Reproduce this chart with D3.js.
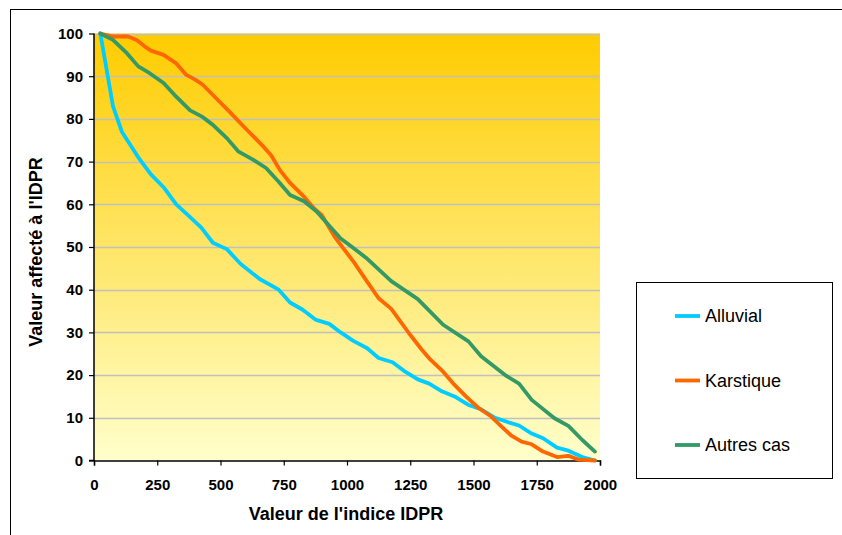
<!DOCTYPE html>
<html><head><meta charset="utf-8">
<script src="https://cdn.jsdelivr.net/npm/d3@7"></script>
<style>body{margin:0;background:#fff}svg{display:block}text{font-family:"Liberation Sans",Arial,sans-serif}</style>
</head><body><svg id="c" width="842" height="535"></svg>
<script>
const seriesNames = ["Alluvial", "Karstique", "Autres cas"];
const seriesColors = ["#00CCFF", "#FF6600", "#339966"];
const alluvial = [[25,100],[75,83],[110,77],[175,71],[225,67],[275,64],[325,60],[380,57],[425,54.5],[470,51],[525,49.5],[580,46],[655,42.5],[730,40],[775,37],[825,35.3],[875,33],[930,32],[975,30],[1025,28],[1080,26.3],[1125,24],[1180,23],[1225,21],[1280,19],[1325,18],[1375,16.2],[1425,15],[1480,13],[1530,12],[1585,10],[1635,9],[1680,8.2],[1730,6.3],[1775,5.2],[1830,3],[1875,2.3],[1930,0.8],[1980,0]];
const karstique = [[25,100],[75,99.3],[135,99.3],[170,98.4],[200,97],[225,96],[275,95],[325,93],[365,90.3],[400,89.2],[430,88],[470,85.6],[540,81.4],[605,77.4],[670,73.5],[700,71.5],[735,68],[775,65],[830,61.8],[870,59],[900,57.5],[950,52.5],[1030,46.2],[1070,42.7],[1125,38],[1175,35.5],[1245,29.8],[1295,26],[1330,23.6],[1380,20.8],[1425,17.7],[1470,15],[1520,12.3],[1570,10.3],[1610,8],[1650,5.8],[1690,4.4],[1730,3.8],[1775,2.1],[1830,0.8],[1875,1.1],[1915,0.2],[1980,0]];
const autresCas = [[25,100],[75,98.5],[130,95.4],[175,92.3],[220,90.7],[275,88.4],[325,85.2],[380,82],[425,80.6],[470,78.6],[525,75.5],[570,72.4],[630,70.4],[680,68.5],[730,65.3],[775,62.2],[830,60.7],[880,58.3],[930,55],[975,52],[1020,50],[1075,47.5],[1175,42],[1280,37.8],[1380,31.8],[1480,27.9],[1530,24.4],[1625,20],[1680,18],[1730,14.2],[1820,9.9],[1875,8.1],[1930,4.8],[1980,2.1]];
const xTicks = [0,250,500,750,1000,1250,1500,1750,2000];
const yTicks = [0,10,20,30,40,50,60,70,80,90,100];
const xTitle = "Valeur de l'indice IDPR";
const yTitle = "Valeur affecté à l'IDPR";

const svg = d3.select("#c");
const L = 94, R = 600, T = 33.5, B = 460.5;
const x = d3.scaleLinear().domain([0,2000]).range([L,R]);
const y = d3.scaleLinear().domain([0,100]).range([B,T]);

// outer border
svg.append("rect").attr("x",10.5).attr("y",9.5).attr("width",845).attr("height",540)
  .attr("fill","none").attr("stroke","#000").attr("stroke-width",1);

const defs = svg.append("defs");
const g = defs.append("linearGradient").attr("id","bg").attr("x1",0).attr("y1",0).attr("x2",0).attr("y2",1);
g.append("stop").attr("offset","0%").attr("stop-color","#FFCC00");
g.append("stop").attr("offset","100%").attr("stop-color","#FFFFCC");
svg.append("rect").attr("x",L).attr("y",T).attr("width",R-L).attr("height",B-T).attr("fill","url(#bg)");

// gridlines
svg.append("g").selectAll("line").data(yTicks.filter(d=>d>0)).join("line")
  .attr("x1",L).attr("x2",R).attr("y1",d=>Math.round(y(d))+0.5).attr("y2",d=>Math.round(y(d))+0.5)
  .attr("stroke","#C0C0C0").attr("stroke-width",1.3);

// axes
const fmt = d3.format("d");
const xAxis = svg.append("g").attr("transform",`translate(0,${B})`)
  .call(d3.axisBottom(x).tickValues(xTicks).tickFormat(fmt).tickSize(5).tickPadding(14));
const yAxis = svg.append("g").attr("transform",`translate(${L},0)`)
  .call(d3.axisLeft(y).tickValues(yTicks).tickFormat(fmt).tickSize(5).tickPadding(6));
[xAxis,yAxis].forEach(a=>{
  a.select(".domain").attr("stroke","#000").attr("stroke-width",1.5);
  a.selectAll(".tick line").attr("stroke","#000").attr("stroke-width",1.2);
  a.selectAll(".tick text").attr("fill","#000").style("font-size","15px").style("font-weight","bold")
   .style("font-family",'"Liberation Sans",Arial,sans-serif');
});
yAxis.select(".domain").attr("d",`M-5,${B}H0V${T}`);

// lines
const line = d3.line().x(d=>x(d[0])).y(d=>y(d[1]));
[alluvial,karstique,autresCas].forEach((s,i)=>{
  svg.append("path").datum(s).attr("d",line).attr("fill","none")
    .attr("stroke",seriesColors[i]).attr("stroke-width",3.8)
    .attr("stroke-linejoin","round").attr("stroke-linecap","round");
});

// axis titles
svg.append("text").attr("x",346).attr("y",520).attr("text-anchor","middle")
  .style("font-size","18px").style("font-weight","bold").text(xTitle);
svg.append("text").attr("transform","translate(42,252) rotate(-90)").attr("text-anchor","middle")
  .style("font-size","18px").style("font-weight","bold").text(yTitle);

// legend
svg.append("rect").attr("x",636.5).attr("y",282.5).attr("width",196).attr("height",196)
  .attr("fill","#fff").attr("stroke","#000").attr("stroke-width",1);
const ly = [316, 380.5, 445];
seriesNames.forEach((n,i)=>{
  svg.append("line").attr("x1",675).attr("x2",700).attr("y1",ly[i]).attr("y2",ly[i])
    .attr("stroke",seriesColors[i]).attr("stroke-width",3.8);
  svg.append("text").attr("x",705).attr("y",ly[i]+6).style("font-size","18px").text(n);
});
</script></body></html>
